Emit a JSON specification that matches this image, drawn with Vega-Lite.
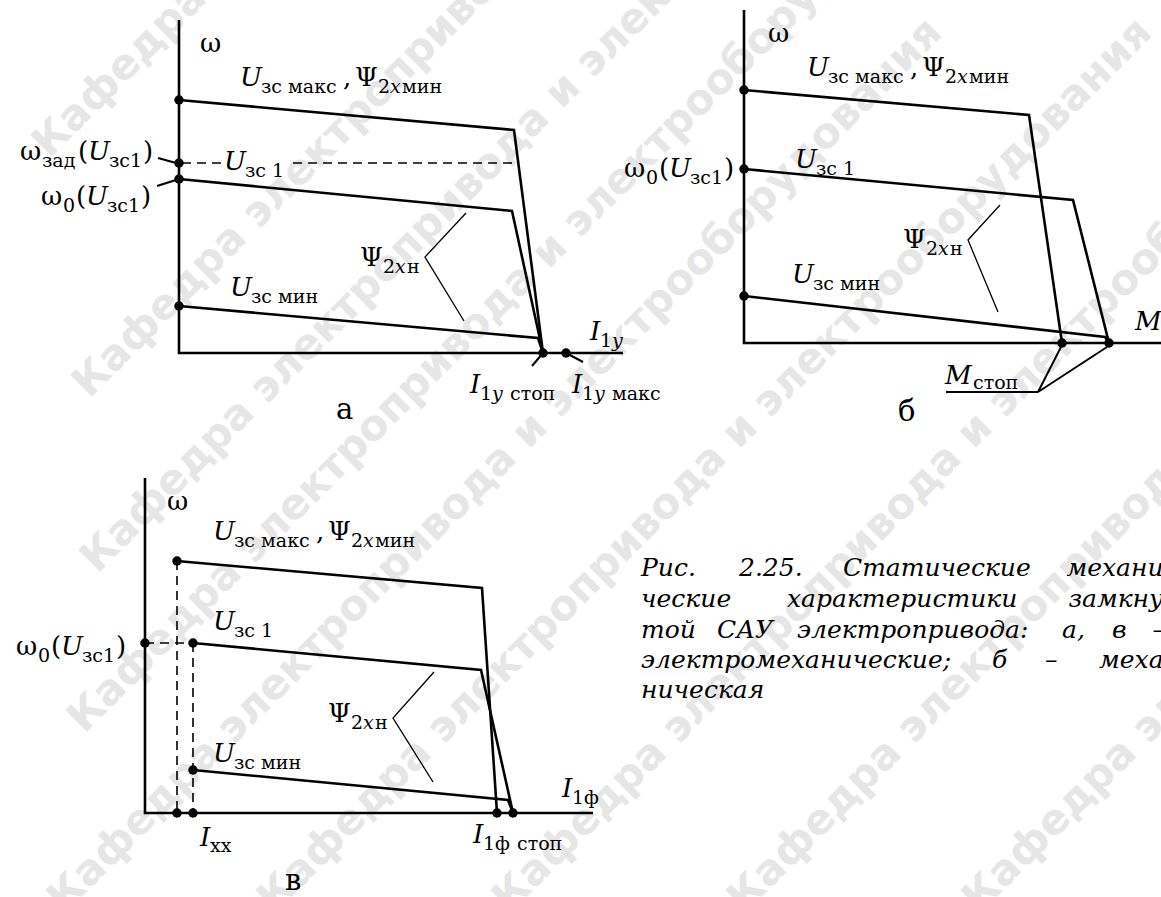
{
  "$schema": "https://vega.github.io/schema/vega-lite/v6.json",
  "width": 1161,
  "height": 897,
  "autosize": {"type": "none"},
  "padding": 0,
  "background": "white",
  "config": {"view": {"stroke": null}},
  "datasets": {
    "watermark": [
      {"x": 40, "y": 150, "t": "Кафедра электропривода и электрооборудования"},
      {"x": 80, "y": 390, "t": "Кафедра электропривода и электрооборудования"},
      {"x": 88, "y": 565, "t": "Кафедра электропривода и электрооборудования"},
      {"x": 75, "y": 725, "t": "Кафедра электропривода и электрооборудования"},
      {"x": 55, "y": 905, "t": "Кафедра электропривода и электрооборудования"},
      {"x": 265, "y": 905, "t": "Кафедра электропривода и электрооборудования"},
      {"x": 500, "y": 905, "t": "Кафедра электропривода и электрооборудования"},
      {"x": 735, "y": 905, "t": "Кафедра электропривода и электрооборудования"},
      {"x": 970, "y": 905, "t": "Кафедра электропривода и электрооборудования"}
    ],
    "curves": [
      {"id": "a_top", "o": 1, "x": 179, "y": 100}, {"id": "a_top", "o": 2, "x": 514, "y": 130}, {"id": "a_top", "o": 3, "x": 543, "y": 353},
      {"id": "a_mid", "o": 1, "x": 179, "y": 179}, {"id": "a_mid", "o": 2, "x": 512, "y": 211}, {"id": "a_mid", "o": 3, "x": 543, "y": 353},
      {"id": "a_min", "o": 1, "x": 179, "y": 306}, {"id": "a_min", "o": 2, "x": 538, "y": 338}, {"id": "a_min", "o": 3, "x": 543, "y": 353},
      {"id": "b_top", "o": 1, "x": 744, "y": 90}, {"id": "b_top", "o": 2, "x": 1029, "y": 115}, {"id": "b_top", "o": 3, "x": 1062, "y": 343},
      {"id": "b_mid", "o": 1, "x": 744, "y": 169}, {"id": "b_mid", "o": 2, "x": 1073, "y": 200}, {"id": "b_mid", "o": 3, "x": 1109, "y": 343},
      {"id": "b_min", "o": 1, "x": 744, "y": 296}, {"id": "b_min", "o": 2, "x": 1105, "y": 337}, {"id": "b_min", "o": 3, "x": 1109, "y": 343},
      {"id": "v_top", "o": 1, "x": 177, "y": 561}, {"id": "v_top", "o": 2, "x": 482, "y": 588}, {"id": "v_top", "o": 3, "x": 497, "y": 813},
      {"id": "v_mid", "o": 1, "x": 193, "y": 643}, {"id": "v_mid", "o": 2, "x": 481, "y": 670}, {"id": "v_mid", "o": 3, "x": 513, "y": 813},
      {"id": "v_min", "o": 1, "x": 193, "y": 770}, {"id": "v_min", "o": 2, "x": 508, "y": 800}, {"id": "v_min", "o": 3, "x": 513, "y": 813},
      {"id": "a_axis", "o": 1, "x": 179, "y": 20}, {"id": "a_axis", "o": 2, "x": 179, "y": 353}, {"id": "a_axis", "o": 3, "x": 623, "y": 353},
      {"id": "b_axis", "o": 1, "x": 744, "y": 10}, {"id": "b_axis", "o": 2, "x": 744, "y": 343}, {"id": "b_axis", "o": 3, "x": 1165, "y": 343},
      {"id": "v_axis", "o": 1, "x": 145, "y": 478}, {"id": "v_axis", "o": 2, "x": 145, "y": 813}, {"id": "v_axis", "o": 3, "x": 593, "y": 813}
    ],
    "dashed": [
      {"id": "a_d1", "o": 1, "x": 182, "y": 163}, {"id": "a_d1", "o": 2, "x": 221, "y": 163},
      {"id": "a_d2", "o": 1, "x": 293, "y": 163}, {"id": "a_d2", "o": 2, "x": 517, "y": 163},
      {"id": "v_d1", "o": 1, "x": 177, "y": 561}, {"id": "v_d1", "o": 2, "x": 177, "y": 813},
      {"id": "v_d2", "o": 1, "x": 193, "y": 643}, {"id": "v_d2", "o": 2, "x": 193, "y": 813},
      {"id": "v_d3", "o": 1, "x": 145, "y": 643}, {"id": "v_d3", "o": 2, "x": 193, "y": 643}
    ],
    "leaders": [
      {"id": "a_zad", "o": 1, "x": 158, "y": 158}, {"id": "a_zad", "o": 2, "x": 176, "y": 163},
      {"id": "a_w0", "o": 1, "x": 157, "y": 186}, {"id": "a_w0", "o": 2, "x": 176, "y": 180},
      {"id": "a_stop", "o": 1, "x": 543, "y": 353}, {"id": "a_stop", "o": 2, "x": 532, "y": 366},
      {"id": "a_max", "o": 1, "x": 566, "y": 353}, {"id": "a_max", "o": 2, "x": 583, "y": 362},
      {"id": "b_ms1", "o": 1, "x": 1061, "y": 347}, {"id": "b_ms1", "o": 2, "x": 1038, "y": 392},
      {"id": "b_ms2", "o": 1, "x": 1107, "y": 347}, {"id": "b_ms2", "o": 2, "x": 1038, "y": 392},
      {"id": "b_ms3", "o": 1, "x": 946, "y": 392}, {"id": "b_ms3", "o": 2, "x": 1038, "y": 392}
    ],
    "braces": [
      {"id": "a_br", "o": 1, "x": 466, "y": 213}, {"id": "a_br", "o": 2, "x": 425, "y": 257}, {"id": "a_br", "o": 3, "x": 464, "y": 321},
      {"id": "b_br", "o": 1, "x": 1000, "y": 205}, {"id": "b_br", "o": 2, "x": 968, "y": 240}, {"id": "b_br", "o": 3, "x": 998, "y": 312},
      {"id": "v_br", "o": 1, "x": 434, "y": 672}, {"id": "v_br", "o": 2, "x": 393, "y": 718}, {"id": "v_br", "o": 3, "x": 433, "y": 782}
    ],
    "dots": [
      {"x": 179, "y": 100}, {"x": 179, "y": 163}, {"x": 179, "y": 179}, {"x": 179, "y": 306}, {"x": 543, "y": 353}, {"x": 566, "y": 353},
      {"x": 744, "y": 90}, {"x": 744, "y": 169}, {"x": 744, "y": 296}, {"x": 1062, "y": 343}, {"x": 1109, "y": 343},
      {"x": 177, "y": 561}, {"x": 145, "y": 643}, {"x": 193, "y": 643}, {"x": 193, "y": 770}, {"x": 177, "y": 813}, {"x": 193, "y": 813}, {"x": 497, "y": 813}, {"x": 513, "y": 813}
    ],
    "labels": [
      {"x": 200, "y": 52, "t": "ω", "s": 26, "st": "n"},
      {"x": 240, "y": 86, "t": "U", "s": 26, "st": "i"}, {"x": 261, "y": 93, "t": "зс макс", "s": 19, "st": "n"}, {"x": 343, "y": 86, "t": ",", "s": 26, "st": "n"}, {"x": 355, "y": 86, "t": "Ψ", "s": 26, "st": "n"}, {"x": 378, "y": 93, "t": "2", "s": 19, "st": "n"}, {"x": 390, "y": 93, "t": "x", "s": 19, "st": "i"}, {"x": 402, "y": 93, "t": "мин", "s": 19, "st": "n"},
      {"x": 224, "y": 170, "t": "U", "s": 26, "st": "i"}, {"x": 245, "y": 177, "t": "зс 1", "s": 19, "st": "n"},
      {"x": 20, "y": 160, "t": "ω", "s": 26, "st": "n"}, {"x": 42, "y": 167, "t": "зад", "s": 19, "st": "n"}, {"x": 78, "y": 160, "t": "(", "s": 26, "st": "n"}, {"x": 88, "y": 160, "t": "U", "s": 26, "st": "i"}, {"x": 109, "y": 167, "t": "зс1", "s": 19, "st": "n"}, {"x": 143, "y": 160, "t": ")", "s": 26, "st": "n"},
      {"x": 41, "y": 205, "t": "ω", "s": 26, "st": "n"}, {"x": 63, "y": 212, "t": "0", "s": 19, "st": "n"}, {"x": 76, "y": 205, "t": "(", "s": 26, "st": "n"}, {"x": 86, "y": 205, "t": "U", "s": 26, "st": "i"}, {"x": 107, "y": 212, "t": "зс1", "s": 19, "st": "n"}, {"x": 141, "y": 205, "t": ")", "s": 26, "st": "n"},
      {"x": 360, "y": 266, "t": "Ψ", "s": 26, "st": "n"}, {"x": 383, "y": 273, "t": "2", "s": 19, "st": "n"}, {"x": 395, "y": 273, "t": "x", "s": 19, "st": "i"}, {"x": 407, "y": 273, "t": "н", "s": 19, "st": "n"},
      {"x": 230, "y": 296, "t": "U", "s": 26, "st": "i"}, {"x": 251, "y": 303, "t": "зс мин", "s": 19, "st": "n"},
      {"x": 590, "y": 340, "t": "I", "s": 26, "st": "i"}, {"x": 600, "y": 347, "t": "1", "s": 19, "st": "n"}, {"x": 612, "y": 347, "t": "y", "s": 19, "st": "i"},
      {"x": 470, "y": 393, "t": "I", "s": 26, "st": "i"}, {"x": 480, "y": 400, "t": "1", "s": 19, "st": "n"}, {"x": 492, "y": 400, "t": "y", "s": 19, "st": "i"}, {"x": 510, "y": 400, "t": "стоп", "s": 19, "st": "n"},
      {"x": 572, "y": 393, "t": "I", "s": 26, "st": "i"}, {"x": 582, "y": 400, "t": "1", "s": 19, "st": "n"}, {"x": 594, "y": 400, "t": "y", "s": 19, "st": "i"}, {"x": 612, "y": 400, "t": "макс", "s": 19, "st": "n"},
      {"x": 336, "y": 419, "t": "а", "s": 29, "st": "n"},

      {"x": 768, "y": 42, "t": "ω", "s": 26, "st": "n"},
      {"x": 807, "y": 76, "t": "U", "s": 26, "st": "i"}, {"x": 828, "y": 83, "t": "зс макс", "s": 19, "st": "n"}, {"x": 910, "y": 76, "t": ",", "s": 26, "st": "n"}, {"x": 922, "y": 76, "t": "Ψ", "s": 26, "st": "n"}, {"x": 945, "y": 83, "t": "2", "s": 19, "st": "n"}, {"x": 957, "y": 83, "t": "x", "s": 19, "st": "i"}, {"x": 969, "y": 83, "t": "мин", "s": 19, "st": "n"},
      {"x": 795, "y": 168, "t": "U", "s": 26, "st": "i"}, {"x": 816, "y": 175, "t": "зс 1", "s": 19, "st": "n"},
      {"x": 624, "y": 177, "t": "ω", "s": 26, "st": "n"}, {"x": 646, "y": 184, "t": "0", "s": 19, "st": "n"}, {"x": 659, "y": 177, "t": "(", "s": 26, "st": "n"}, {"x": 669, "y": 177, "t": "U", "s": 26, "st": "i"}, {"x": 690, "y": 184, "t": "зс1", "s": 19, "st": "n"}, {"x": 724, "y": 177, "t": ")", "s": 26, "st": "n"},
      {"x": 903, "y": 248, "t": "Ψ", "s": 26, "st": "n"}, {"x": 926, "y": 255, "t": "2", "s": 19, "st": "n"}, {"x": 938, "y": 255, "t": "x", "s": 19, "st": "i"}, {"x": 950, "y": 255, "t": "н", "s": 19, "st": "n"},
      {"x": 792, "y": 283, "t": "U", "s": 26, "st": "i"}, {"x": 813, "y": 290, "t": "зс мин", "s": 19, "st": "n"},
      {"x": 1135, "y": 330, "t": "M", "s": 26, "st": "i"},
      {"x": 945, "y": 384, "t": "M", "s": 26, "st": "i"}, {"x": 973, "y": 389, "t": "стоп", "s": 19, "st": "n"},
      {"x": 898, "y": 421, "t": "б", "s": 29, "st": "n"},

      {"x": 167, "y": 510, "t": "ω", "s": 26, "st": "n"},
      {"x": 213, "y": 540, "t": "U", "s": 26, "st": "i"}, {"x": 234, "y": 547, "t": "зс макс", "s": 19, "st": "n"}, {"x": 316, "y": 540, "t": ",", "s": 26, "st": "n"}, {"x": 328, "y": 540, "t": "Ψ", "s": 26, "st": "n"}, {"x": 351, "y": 547, "t": "2", "s": 19, "st": "n"}, {"x": 363, "y": 547, "t": "x", "s": 19, "st": "i"}, {"x": 375, "y": 547, "t": "мин", "s": 19, "st": "n"},
      {"x": 213, "y": 630, "t": "U", "s": 26, "st": "i"}, {"x": 234, "y": 637, "t": "зс 1", "s": 19, "st": "n"},
      {"x": 16, "y": 655, "t": "ω", "s": 26, "st": "n"}, {"x": 38, "y": 662, "t": "0", "s": 19, "st": "n"}, {"x": 51, "y": 655, "t": "(", "s": 26, "st": "n"}, {"x": 61, "y": 655, "t": "U", "s": 26, "st": "i"}, {"x": 82, "y": 662, "t": "зс1", "s": 19, "st": "n"}, {"x": 116, "y": 655, "t": ")", "s": 26, "st": "n"},
      {"x": 328, "y": 722, "t": "Ψ", "s": 26, "st": "n"}, {"x": 351, "y": 729, "t": "2", "s": 19, "st": "n"}, {"x": 363, "y": 729, "t": "x", "s": 19, "st": "i"}, {"x": 375, "y": 729, "t": "н", "s": 19, "st": "n"},
      {"x": 213, "y": 762, "t": "U", "s": 26, "st": "i"}, {"x": 234, "y": 769, "t": "зс мин", "s": 19, "st": "n"},
      {"x": 562, "y": 797, "t": "I", "s": 26, "st": "i"}, {"x": 572, "y": 804, "t": "1ф", "s": 19, "st": "n"},
      {"x": 473, "y": 843, "t": "I", "s": 26, "st": "i"}, {"x": 483, "y": 850, "t": "1ф", "s": 19, "st": "n"}, {"x": 517, "y": 850, "t": "стоп", "s": 19, "st": "n"},
      {"x": 200, "y": 846, "t": "I", "s": 26, "st": "i"}, {"x": 210, "y": 852, "t": "хх", "s": 19, "st": "n"},
      {"x": 285, "y": 890, "t": "в", "s": 29, "st": "n"},

      {"x": 641, "y": 576, "t": "Рис.", "s": 25, "st": "c"}, {"x": 739, "y": 576, "t": "2.25.", "s": 25, "st": "c"}, {"x": 843, "y": 576, "t": "Статические", "s": 25, "st": "c"}, {"x": 1172, "y": 576, "t": "механи-", "s": 25, "st": "cr"},
      {"x": 641, "y": 607, "t": "ческие", "s": 25, "st": "c"}, {"x": 787, "y": 607, "t": "характеристики", "s": 25, "st": "c"}, {"x": 1172, "y": 607, "t": "замкну-", "s": 25, "st": "cr"},
      {"x": 641, "y": 638, "t": "той", "s": 25, "st": "c"}, {"x": 717, "y": 638, "t": "САУ", "s": 25, "st": "c"}, {"x": 797, "y": 638, "t": "электропривода:", "s": 25, "st": "c"}, {"x": 1062, "y": 638, "t": "а,", "s": 25, "st": "c"}, {"x": 1112, "y": 638, "t": "в", "s": 25, "st": "c"}, {"x": 1165, "y": 638, "t": "–", "s": 25, "st": "cr"},
      {"x": 641, "y": 668, "t": "электромеханические;", "s": 25, "st": "c"}, {"x": 992, "y": 668, "t": "б", "s": 25, "st": "c"}, {"x": 1045, "y": 668, "t": "–", "s": 25, "st": "c"}, {"x": 1172, "y": 668, "t": "меха-", "s": 25, "st": "cr"},
      {"x": 641, "y": 698, "t": "ническая", "s": 25, "st": "c"}
    ]
  },
  "layer": [
    {
      "data": {"name": "watermark"},
      "mark": {"type": "text", "font": "DejaVu Sans", "fontWeight": "bold", "fontSize": 42, "angle": -45, "align": "left", "baseline": "middle", "color": "#e6e6e6"},
      "encoding": {
        "x": {"field": "x", "type": "quantitative", "scale": {"domain": [0, 1161], "nice": false, "zero": false}, "axis": null},
        "y": {"field": "y", "type": "quantitative", "scale": {"domain": [0, 897], "nice": false, "zero": false, "reverse": true}, "axis": null},
        "text": {"field": "t"}
      }
    },
    {
      "data": {"name": "curves"},
      "mark": {"type": "line", "color": "black", "strokeWidth": 2.6, "strokeJoin": "miter"},
      "encoding": {
        "x": {"field": "x", "type": "quantitative"},
        "y": {"field": "y", "type": "quantitative"},
        "detail": {"field": "id"},
        "order": {"field": "o", "type": "quantitative"}
      }
    },
    {
      "data": {"name": "dashed"},
      "mark": {"type": "line", "color": "black", "strokeWidth": 1.6, "strokeDash": [9, 6]},
      "encoding": {
        "x": {"field": "x", "type": "quantitative"},
        "y": {"field": "y", "type": "quantitative"},
        "detail": {"field": "id"},
        "order": {"field": "o", "type": "quantitative"}
      }
    },
    {
      "data": {"name": "leaders"},
      "mark": {"type": "line", "color": "black", "strokeWidth": 2},
      "encoding": {
        "x": {"field": "x", "type": "quantitative"},
        "y": {"field": "y", "type": "quantitative"},
        "detail": {"field": "id"},
        "order": {"field": "o", "type": "quantitative"}
      }
    },
    {
      "data": {"name": "braces"},
      "mark": {"type": "line", "color": "black", "strokeWidth": 1.3},
      "encoding": {
        "x": {"field": "x", "type": "quantitative"},
        "y": {"field": "y", "type": "quantitative"},
        "detail": {"field": "id"},
        "order": {"field": "o", "type": "quantitative"}
      }
    },
    {
      "data": {"name": "dots"},
      "mark": {"type": "circle", "color": "black", "opacity": 1, "size": 90},
      "encoding": {
        "x": {"field": "x", "type": "quantitative"},
        "y": {"field": "y", "type": "quantitative"}
      }
    },
    {
      "data": {"name": "labels"},
      "transform": [{"filter": "datum.st === 'n'"}],
      "mark": {"type": "text", "font": "DejaVu Serif", "align": "left", "baseline": "alphabetic", "color": "black"},
      "encoding": {
        "x": {"field": "x", "type": "quantitative"},
        "y": {"field": "y", "type": "quantitative"},
        "text": {"field": "t"},
        "size": {"field": "s", "type": "quantitative", "scale": null}
      }
    },
    {
      "data": {"name": "labels"},
      "transform": [{"filter": "datum.st === 'i' || datum.st === 'c'"}],
      "mark": {"type": "text", "font": "DejaVu Serif", "fontStyle": "italic", "align": "left", "baseline": "alphabetic", "color": "black"},
      "encoding": {
        "x": {"field": "x", "type": "quantitative"},
        "y": {"field": "y", "type": "quantitative"},
        "text": {"field": "t"},
        "size": {"field": "s", "type": "quantitative", "scale": null}
      }
    },
    {
      "data": {"name": "labels"},
      "transform": [{"filter": "datum.st === 'cr'"}],
      "mark": {"type": "text", "font": "DejaVu Serif", "fontStyle": "italic", "align": "right", "baseline": "alphabetic", "color": "black"},
      "encoding": {
        "x": {"field": "x", "type": "quantitative"},
        "y": {"field": "y", "type": "quantitative"},
        "text": {"field": "t"},
        "size": {"field": "s", "type": "quantitative", "scale": null}
      }
    }
  ]
}
